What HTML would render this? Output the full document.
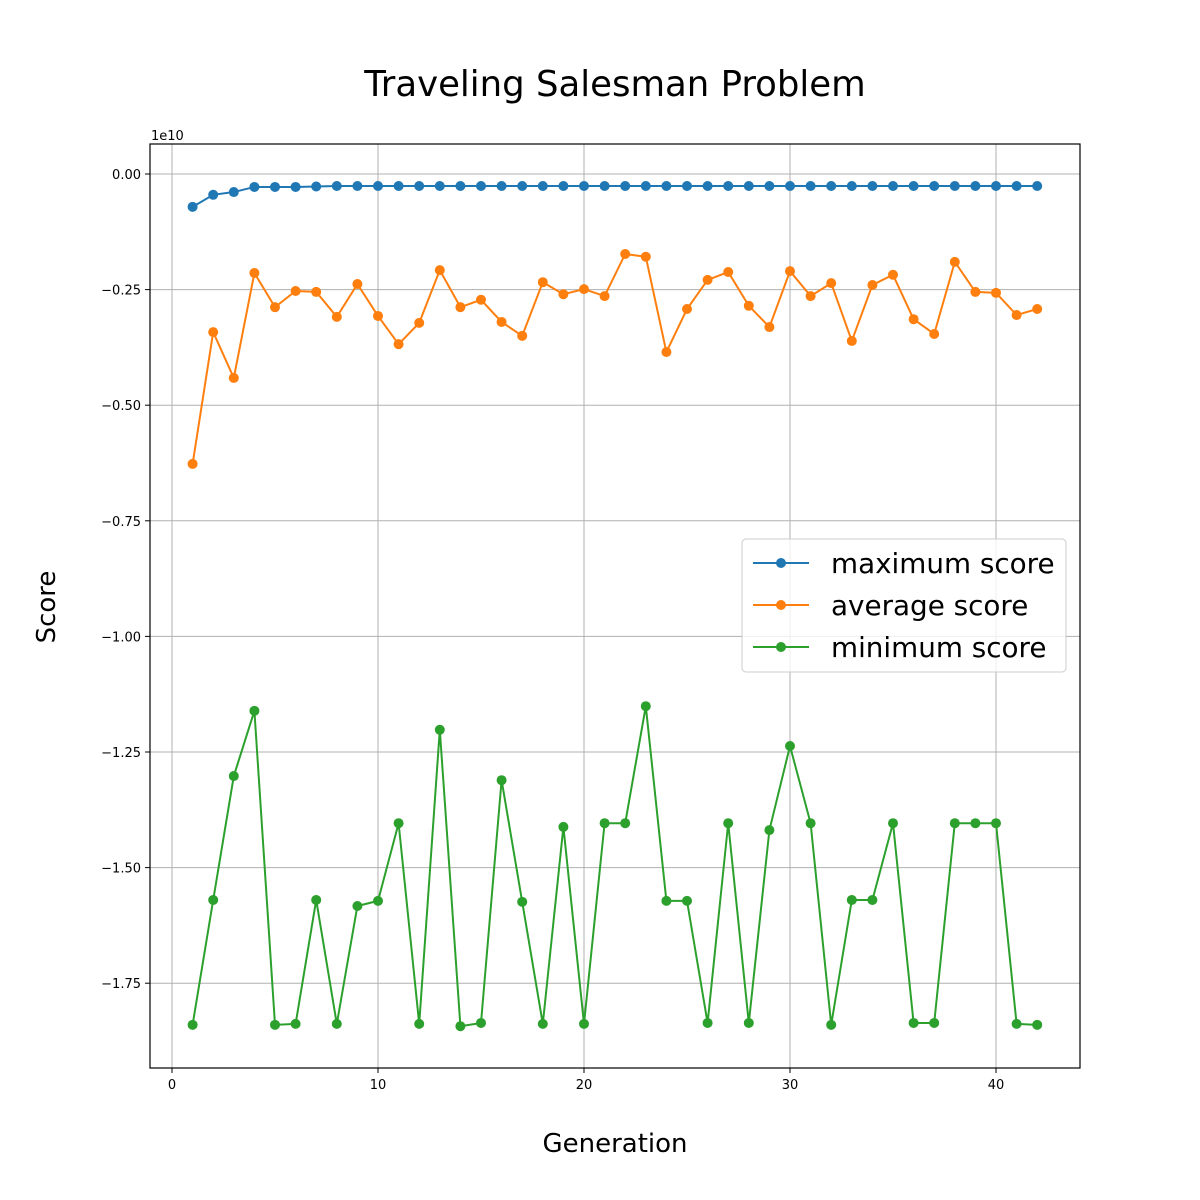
<!DOCTYPE html>
<html><head><meta charset="utf-8"><style>
html,body{margin:0;padding:0;background:#fff;}
svg{display:block;font-family:"DejaVu Sans","Liberation Sans",sans-serif;}
</style></head><body>
<svg id="chart" width="1200" height="1200" viewBox="0 0 1200 1200">
<rect width="1200" height="1200" fill="#fff"/>
<text x="615" y="96" font-size="35.5" text-anchor="middle">Traveling Salesman Problem</text>
<text x="615" y="1152" font-size="26" text-anchor="middle">Generation</text>
<text x="55" y="607" font-size="26" text-anchor="middle" transform="rotate(-90 55 607)">Score</text>
<text x="151" y="140" font-size="13">1e10</text>
<g id="grid"></g>
<g id="series"></g>
<rect x="150" y="144" width="930" height="924" fill="none" stroke="#000" stroke-width="1.2"/>
<g id="legend">
<rect x="742" y="539" width="324" height="133" rx="4" fill="#fff" fill-opacity="0.8" stroke="#ccc"/>
</g>
</svg>
<script>
const generations = Array.from({length:42},(_,i)=>i+1);
const maxScores = [-0.071,-0.045,-0.039,-0.028,-0.028,-0.028,-0.027,-0.026,-0.026,-0.026,-0.026,-0.026,-0.026,-0.026,-0.026,-0.026,-0.026,-0.026,-0.026,-0.026,-0.026,-0.026,-0.026,-0.026,-0.026,-0.026,-0.026,-0.026,-0.026,-0.026,-0.026,-0.026,-0.026,-0.026,-0.026,-0.026,-0.026,-0.026,-0.026,-0.026,-0.026,-0.026];
const avgScores = [-0.627,-0.342,-0.441,-0.214,-0.288,-0.253,-0.255,-0.309,-0.238,-0.307,-0.368,-0.322,-0.208,-0.288,-0.272,-0.320,-0.350,-0.234,-0.260,-0.249,-0.264,-0.173,-0.179,-0.385,-0.292,-0.229,-0.212,-0.285,-0.331,-0.210,-0.264,-0.236,-0.361,-0.240,-0.218,-0.314,-0.346,-0.190,-0.255,-0.257,-0.305,-0.292];
const minScores = [-1.840,-1.570,-1.302,-1.161,-1.840,-1.838,-1.570,-1.838,-1.583,-1.572,-1.404,-1.838,-1.202,-1.843,-1.836,-1.311,-1.574,-1.838,-1.412,-1.838,-1.404,-1.404,-1.151,-1.572,-1.572,-1.836,-1.404,-1.836,-1.419,-1.237,-1.404,-1.840,-1.570,-1.570,-1.404,-1.836,-1.836,-1.404,-1.404,-1.404,-1.838,-1.840];
const xTicks = [0,10,20,30,40];
const yTicks = [0,-0.25,-0.5,-0.75,-1.0,-1.25,-1.5,-1.75];
const yTickLabels = ["0.00","\u22120.25","\u22120.50","\u22120.75","\u22121.00","\u22121.25","\u22121.50","\u22121.75"];
const seriesNames = ["maximum score","average score","minimum score"];
const seriesColors = ["#1f77b4","#ff7f0e","#2ca02c"];

const X = v => 172 + v*20.6;
const Y = v => 174 - v*462.4;
const NS = "http://www.w3.org/2000/svg";
function mk(tag, attrs, parent){const e=document.createElementNS(NS,tag);for(const k in attrs)e.setAttribute(k,attrs[k]);parent.appendChild(e);return e;}
const grid=document.getElementById('grid');
xTicks.forEach(t=>{
  const l=mk('line',{x1:X(t),x2:X(t),y1:144,y2:1068,stroke:'#b0b0b0','stroke-width':1},grid);
  
  
  mk('line',{x1:X(t),x2:X(t),y1:1068,y2:1073,stroke:'#000'},grid);
  const tx=mk('text',{x:X(t),y:1089,'font-size':13,'text-anchor':'middle'},grid);
  tx.textContent=t;
  
  
});
yTicks.forEach((t,i)=>{
  const l=mk('line',{x1:150,x2:1080,y1:Y(t),y2:Y(t),stroke:'#b0b0b0','stroke-width':1},grid);
  
  
  mk('line',{x1:145,x2:150,y1:Y(t),y2:Y(t),stroke:'#000'},grid);
  const tx=mk('text',{x:141,y:Y(t)+5,'font-size':13,'text-anchor':'end'},grid);
  tx.textContent=yTickLabels[i];
  
  
});
const sg=document.getElementById('series');
[maxScores,avgScores,minScores].forEach((vals,si)=>{
  const g=mk('g',{},sg);
  
  
  const pts=vals.map((v,i)=>X(generations[i])+','+Y(v)).join(' ');
  const pl=mk('polyline',{points:pts,fill:'none',stroke:seriesColors[si],'stroke-width':2},g);
  
  
  vals.forEach((v,i)=>{
    const c=mk('circle',{cx:X(generations[i]),cy:Y(v),r:5,fill:seriesColors[si]},g);
    
    
  });
});
const lg=document.getElementById('legend');
seriesNames.forEach((n,i)=>{
  const y=563+i*42;
  const l=mk('line',{x1:753,x2:809,y1:y,y2:y,stroke:seriesColors[i],'stroke-width':2},lg);
  
  
  const c=mk('circle',{cx:781,cy:y,r:5,fill:seriesColors[i]},lg);
  
  
  const t=mk('text',{x:831,y:y+10,'font-size':27.8},lg);
  t.textContent=n;
  
  
});
</script>
</body></html>
